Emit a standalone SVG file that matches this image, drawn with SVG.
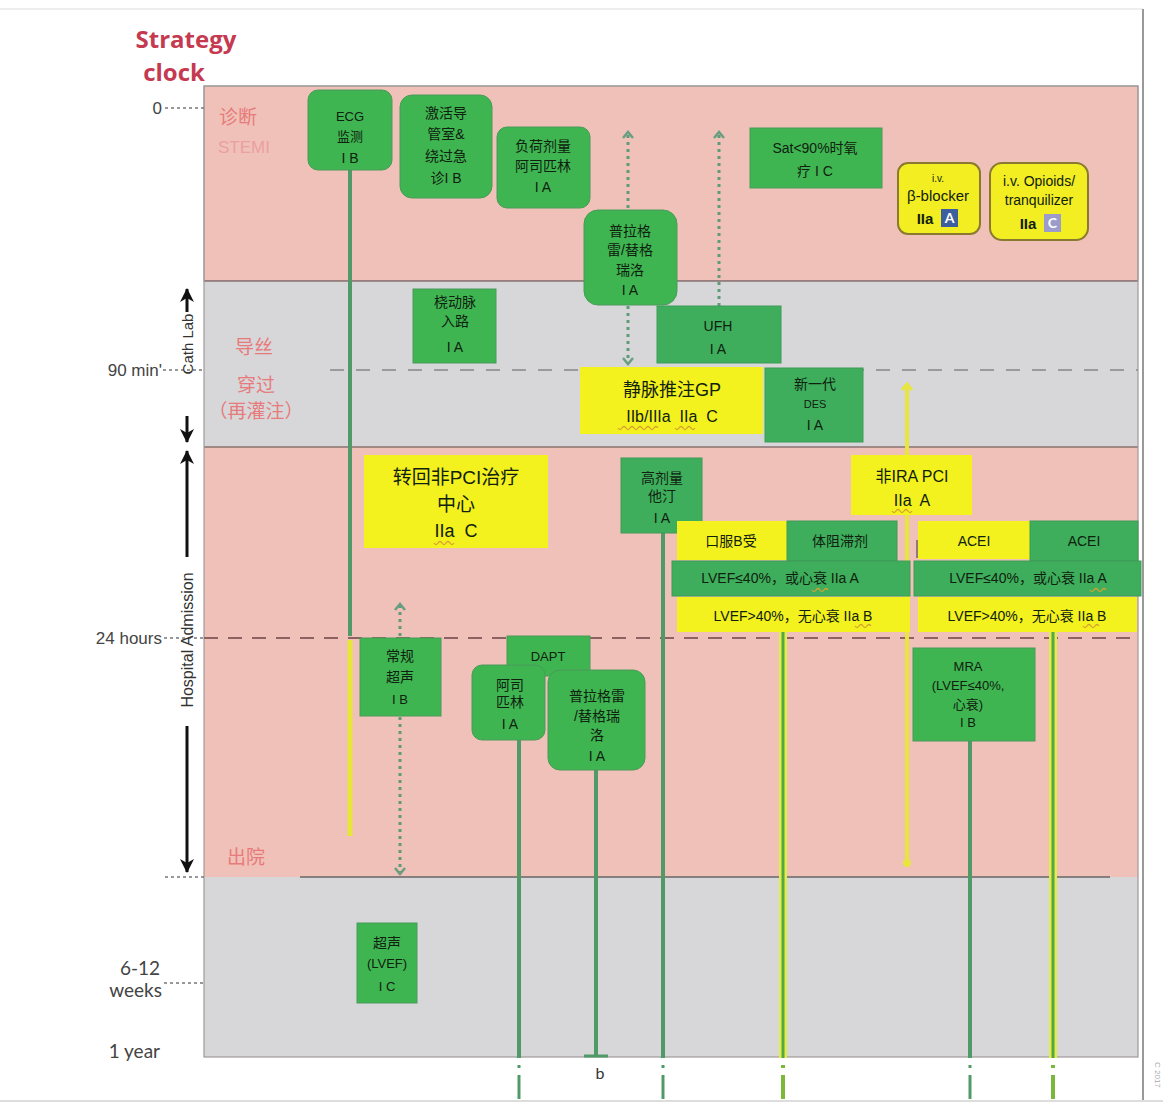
<svg xmlns="http://www.w3.org/2000/svg" width="1163" height="1106" viewBox="0 0 1163 1106">
<defs>
<style>
.t{font-family:"Liberation Sans","Noto Sans CJK SC",sans-serif;fill:#10210f;text-anchor:middle}
.s13{font-size:13px}.s14{font-size:14px}.s16{font-size:16px}.s18{font-size:18px}
.g{fill:#3fb552;stroke:#4a9a5a;stroke-width:1}
.gd{fill:#3eae5c;stroke:#3f9a58;stroke-width:1}
.y{fill:#f3f21e;stroke:none}
.yb{fill:#f2ee22;stroke:#8a7a30;stroke-width:2}
.ax{font-family:"Liberation Sans","Noto Sans CJK SC",sans-serif;fill:#444;font-size:17px;text-anchor:end}
.gs{font-family:Lato,"Liberation Sans",sans-serif;fill:#444;font-size:19px;text-anchor:end}
.pk{font-family:"Noto Sans CJK SC","Liberation Sans",sans-serif;fill:#e77b7b;font-size:19px;text-anchor:middle}
.gl{stroke:#4f9a66;stroke-width:4;fill:none}
.dot{stroke:#5f9b78;stroke-width:3;stroke-dasharray:3 4;fill:none}
.wv{stroke:#d8a030;stroke-width:1.3;fill:none}
</style>
<marker id="chev" viewBox="0 0 12 12" refX="9" refY="6" markerWidth="12" markerHeight="12" markerUnits="userSpaceOnUse" orient="auto">
<path d="M3,1 L9,6 L3,11" fill="none" stroke="#6a9e80" stroke-width="2.5"/>
</marker>
<marker id="ar" viewBox="0 0 14 14" refX="13" refY="7" markerWidth="14" markerHeight="14" markerUnits="userSpaceOnUse" orient="auto">
<path d="M0,0 L14,7 L0,14 L4,7 Z" fill="#111"/>
</marker>
<marker id="yar" viewBox="0 0 12 12" refX="9" refY="6" markerWidth="12" markerHeight="12" markerUnits="userSpaceOnUse" orient="auto">
<path d="M3,1 L9,6 L3,11" fill="none" stroke="#e8e540" stroke-width="3"/>
</marker>
</defs>
<rect width="1163" height="1106" fill="#fff"/>
<!-- frame -->
<line x1="0" y1="9" x2="1143" y2="9" stroke="#ddd" stroke-width="1"/>
<line x1="1143" y1="9" x2="1143" y2="1100" stroke="#999" stroke-width="2"/>
<line x1="0" y1="1101" x2="1163" y2="1101" stroke="#ddd" stroke-width="2"/>
<text x="1155" y="1062" transform="rotate(90 1155 1062)" font-family="Liberation Sans,sans-serif" font-size="8" fill="#aaa">C 2017</text>

<!-- bands -->
<g id="bands">
<rect x="204" y="86" width="934" height="195" fill="#f0c1b8" stroke="#999" stroke-width="1"/>
<rect x="204" y="281" width="934" height="166" fill="#d7d7da"/>
<rect x="204" y="447" width="934" height="430" fill="#f0c1b8"/>
<rect x="204" y="877" width="934" height="180" fill="#d7d7da"/>
<line x1="204" y1="281" x2="1138" y2="281" stroke="#8a7070" stroke-width="1.5"/>
<line x1="204" y1="447" x2="1138" y2="447" stroke="#8a7070" stroke-width="1.5"/>
<line x1="300" y1="877" x2="1110" y2="877" stroke="#666" stroke-width="1.5"/>
<rect x="204" y="86" width="934" height="971" fill="none" stroke="#a09a9a" stroke-width="1.2"/>
<line x1="330" y1="370" x2="1138" y2="370" stroke="#9a9a9a" stroke-width="2" stroke-dasharray="14 12"/>
<line x1="204" y1="638" x2="1138" y2="638" stroke="#8c6262" stroke-width="1.8" stroke-dasharray="14 10"/>
</g>

<!-- axis -->
<g id="axis">
<text x="186" y="48" font-family="Open Sans,Lato,sans-serif" font-weight="bold" font-size="24" fill="#c53a50" text-anchor="middle">Strategy</text>
<text x="174" y="81" font-family="Open Sans,Lato,sans-serif" font-weight="bold" font-size="24" fill="#c53a50" text-anchor="middle">clock</text>
<text class="ax" x="162" y="114">0</text>
<line x1="165" y1="108" x2="204" y2="108" stroke="#777" stroke-width="1.3" stroke-dasharray="3 3"/>
<text class="ax" x="162" y="376">90 min'</text>
<line x1="163" y1="370" x2="204" y2="370" stroke="#777" stroke-width="1.3" stroke-dasharray="3 3"/>
<text class="ax" x="162" y="644">24 hours</text>
<line x1="164" y1="638" x2="204" y2="638" stroke="#777" stroke-width="1.3" stroke-dasharray="3 3"/>
<text class="gs" x="160" y="975">6-12</text>
<text class="gs" x="162" y="997">weeks</text>
<line x1="164" y1="983" x2="204" y2="983" stroke="#777" stroke-width="1.3" stroke-dasharray="3 3"/>
<text class="gs" x="160" y="1058">1 year</text>
<line x1="165" y1="877" x2="204" y2="877" stroke="#777" stroke-width="1.3" stroke-dasharray="3 3"/>
<text x="193" y="344" transform="rotate(-90 193 344)" font-family="Liberation Sans,sans-serif" font-size="15" fill="#333" text-anchor="middle">Cath Lab</text>
<line x1="187" y1="312" x2="187" y2="289" stroke="#111" stroke-width="3" marker-end="url(#ar)"/>
<line x1="187" y1="416" x2="187" y2="442" stroke="#111" stroke-width="3" marker-end="url(#ar)"/>
<text x="193" y="640" transform="rotate(-90 193 640)" font-family="Liberation Sans,sans-serif" font-size="16" fill="#333" text-anchor="middle">Hospital Admission</text>
<line x1="187" y1="557" x2="187" y2="451" stroke="#111" stroke-width="3" marker-end="url(#ar)"/>
<line x1="187" y1="726" x2="187" y2="872" stroke="#111" stroke-width="3" marker-end="url(#ar)"/>
<text class="pk" x="238" y="124">诊断</text>
<text x="244" y="153" font-family="Liberation Sans,sans-serif" font-size="17" fill="#eaa0a0" text-anchor="middle">STEMI</text>
<text class="pk" x="254" y="354" font-size="17">导丝</text>
<text class="pk" x="256" y="392" font-size="17">穿过</text>
<text class="pk" x="256" y="418" font-size="17">（再灌注）</text>
<text class="pk" x="246" y="864">出院</text>
</g>

<!-- connectors -->
<g id="connectors">
<line x1="350" y1="170" x2="350" y2="636" class="gl"/>
<line x1="350" y1="640" x2="350" y2="836" stroke="#e8e53a" stroke-width="5"/>
<line x1="628" y1="208" x2="628" y2="132" class="dot" marker-end="url(#chev)"/>
<line x1="628" y1="306" x2="628" y2="364" class="dot" marker-end="url(#chev)"/>
<line x1="719" y1="306" x2="719" y2="132" class="dot" marker-end="url(#chev)"/>
<line x1="400" y1="636" x2="400" y2="604" class="dot" marker-end="url(#chev)"/>
<line x1="400" y1="717" x2="400" y2="874" class="dot" marker-end="url(#chev)"/>
<line x1="907" y1="862" x2="907" y2="384" stroke="#e8e540" stroke-width="4" marker-end="url(#yar)"/>
<circle cx="907" cy="863" r="4" fill="#e8e540"/>
<line x1="663" y1="533" x2="663" y2="1058" class="gl"/>
<line x1="519" y1="740" x2="519" y2="1058" class="gl"/>
<line x1="596" y1="770" x2="596" y2="1056" class="gl"/>
<line x1="584" y1="1056" x2="608" y2="1056" stroke="#4f9a66" stroke-width="3"/>
<line x1="970" y1="741" x2="970" y2="1058" class="gl"/>
<line x1="783" y1="632" x2="783" y2="1058" stroke="#e2ec4a" stroke-width="8"/>
<line x1="783" y1="632" x2="783" y2="1058" stroke="#55a845" stroke-width="3"/>
<line x1="1053" y1="632" x2="1053" y2="1058" stroke="#e2ec4a" stroke-width="8"/>
<line x1="1053" y1="632" x2="1053" y2="1058" stroke="#55a845" stroke-width="3"/>
<g stroke="#4f9a66" stroke-width="3">
<line x1="519" y1="1065" x2="519" y2="1068"/><line x1="519" y1="1075" x2="519" y2="1099"/>
<line x1="663" y1="1065" x2="663" y2="1068"/><line x1="663" y1="1075" x2="663" y2="1099"/>
<line x1="970" y1="1065" x2="970" y2="1068"/><line x1="970" y1="1075" x2="970" y2="1099"/>
</g>
<g stroke="#7bb83a" stroke-width="4">
<line x1="783" y1="1065" x2="783" y2="1068"/><line x1="783" y1="1075" x2="783" y2="1099"/>
<line x1="1053" y1="1065" x2="1053" y2="1068"/><line x1="1053" y1="1075" x2="1053" y2="1099"/>
</g>
<text x="600" y="1079" font-family="Lato,Liberation Sans,sans-serif" font-size="16" fill="#333" text-anchor="middle">b</text>
</g>

<!-- nodes -->
<g id="n-ecg"><rect class="g" x="308" y="90" width="84" height="80" rx="10"/>
<text class="t s13" x="350" y="121">ECG</text><text class="t s13" x="350" y="141">监测</text><text class="t s14" x="350" y="163">I B</text></g>

<g id="n-cathlab"><rect class="g" x="400" y="95" width="92" height="103" rx="12"/>
<text class="t s14" x="446" y="118">激活导</text><text class="t s14" x="446" y="139">管室&amp;</text><text class="t s14" x="446" y="161">绕过急</text><text class="t s14" x="446" y="183">诊I B</text></g>

<g id="n-aspirin-load"><rect class="g" x="497" y="127" width="93" height="81" rx="10"/>
<text class="t s14" x="543" y="151">负荷剂量</text><text class="t s14" x="543" y="171">阿司匹林</text><text class="t s14" x="543" y="192">I A</text></g>

<g id="n-p2y12"><rect class="g" x="584" y="210" width="93" height="95" rx="14"/>
<text class="t s14" x="630" y="236">普拉格</text><text class="t s14" x="630" y="255">雷/替格</text><text class="t s14" x="630" y="275">瑞洛</text><text class="t s14" x="630" y="295">I A</text></g>

<g id="n-oxygen"><rect class="g" x="750" y="128" width="132" height="60"/>
<text class="t s14" x="815" y="153">Sat&lt;90%时氧</text><text class="t s14" x="815" y="176">疗 I C</text></g>

<g id="n-bblocker"><rect class="yb" x="898" y="163" width="82" height="71" rx="10"/>
<text class="t" x="938" y="182" font-size="10" font-family="Lato,Liberation Sans,sans-serif">i.v.</text>
<text class="t" x="938" y="201" font-size="15" font-family="Lato,Liberation Sans,sans-serif">β-blocker</text>
<text class="t" x="925" y="224" font-size="15" font-weight="bold" font-family="Lato,Liberation Sans,sans-serif">IIa</text>
<rect x="941" y="209" width="17" height="18" fill="#3d5f9e"/>
<text x="949.5" y="223" font-family="Lato,Liberation Sans,sans-serif" font-size="14" font-weight="bold" fill="#fff" text-anchor="middle">A</text></g>

<g id="n-opioids"><rect class="yb" x="990" y="163" width="98" height="77" rx="12"/>
<text class="t" x="1039" y="186" font-size="14" font-family="Lato,Liberation Sans,sans-serif">i.v. Opioids/</text>
<text class="t" x="1039" y="205" font-size="14" font-family="Lato,Liberation Sans,sans-serif">tranquilizer</text>
<text class="t" x="1028" y="229" font-size="15" font-weight="bold" font-family="Lato,Liberation Sans,sans-serif">IIa</text>
<rect x="1044" y="214" width="17" height="18" fill="#9c9ccc"/>
<text x="1052.5" y="228" font-family="Lato,Liberation Sans,sans-serif" font-size="14" font-weight="bold" fill="#fff" text-anchor="middle">C</text></g>

<g id="n-radial"><rect class="g" x="413" y="289" width="83" height="74"/>
<text class="t s14" x="455" y="307">桡动脉</text><text class="t s14" x="455" y="326">入路</text><text class="t s14" x="455" y="352">I A</text></g>

<g id="n-ufh"><rect class="gd" x="657" y="306" width="124" height="57"/>
<text class="t s14" x="718" y="331">UFH</text><text class="t s14" x="718" y="354">I A</text></g>

<g id="n-gp"><rect class="y" x="580" y="367" width="183" height="67"/>
<text class="t s18" x="672" y="396">静脉推注GP</text>
<text class="t s16" x="672" y="422" xml:space="preserve">IIb/IIIa  IIa  C</text>
<path class="wv" d="M618,428 q2,3 4,0 t4,0 t4,0 t4,0 t4,0 t4,0 t4,0 t4,0 t4,0 t4,0 M675,428 q2,3 4,0 t4,0 t4,0 t4,0 t4,0"/></g>

<g id="n-des"><rect class="gd" x="765" y="368" width="98" height="74"/>
<text class="t s14" x="815" y="389">新一代</text><text class="t" x="815" y="408" font-size="11">DES</text><text class="t s14" x="815" y="430">I A</text></g>

<g id="n-transfer"><rect class="y" x="364" y="455" width="184" height="93"/>
<text class="t" x="456" y="484" font-size="19">转回非PCI治疗</text>
<text class="t" x="456" y="511" font-size="19">中心</text>
<text class="t s18" x="456" y="537" xml:space="preserve">IIa  C</text>
<path class="wv" d="M434,543 q2,3 4,0 t4,0 t4,0 t4,0 t4,0"/></g>

<g id="n-statin"><rect class="gd" x="621" y="458" width="81" height="75"/>
<text class="t s14" x="662" y="483">高剂量</text><text class="t s14" x="662" y="501">他汀</text><text class="t s14" x="662" y="523">I A</text></g>

<g id="n-nonira"><rect class="y" x="851" y="455" width="121" height="60"/>
<text class="t s16" x="912" y="482">非IRA PCI</text>
<text class="t s16" x="912" y="506" xml:space="preserve">IIa  A</text>
<path class="wv" d="M892,511 q2,3 4,0 t4,0 t4,0 t4,0 t4,0"/></g>

<g id="n-bblocker-oral">
<rect class="y" x="677" y="521" width="110" height="39"/>
<rect class="gd" x="787" y="521" width="110" height="40"/>
<rect class="gd" x="672" y="561" width="238" height="35"/>
<rect class="y" x="677" y="597" width="233" height="35"/>
<text class="t s14" x="731" y="546">口服B受</text>
<text class="t s14" x="840" y="546">体阻滞剂</text>
<text class="t s14" x="780" y="583">LVEF≤40%，或心衰 IIa  A</text>
<text class="t s14" x="793" y="621">LVEF&gt;40%，无心衰 IIa  B</text>
<path class="wv" d="M812,590 q2,3 4,0 t4,0 t4,0 t4,0 M855,626 q2,3 4,0 t4,0 t4,0 t4,0"/></g>

<g id="n-acei">
<rect class="y" x="918" y="521" width="112" height="38"/>
<rect class="gd" x="1030" y="521" width="108" height="40"/>
<rect class="gd" x="914" y="561" width="227" height="35"/>
<rect class="y" x="918" y="597" width="219" height="35"/>
<line x1="917" y1="540" x2="917" y2="558" stroke="#333" stroke-width="1"/>
<text class="t s14" x="974" y="546">ACEI</text>
<text class="t s14" x="1084" y="546">ACEI</text>
<text class="t s14" x="1028" y="583">LVEF≤40%，或心衰 IIa  A</text>
<text class="t s14" x="1027" y="621">LVEF&gt;40%，无心衰 IIa  B</text>
<path class="wv" d="M1090,590 q2,3 4,0 t4,0 t4,0 t4,0 M1083,626 q2,3 4,0 t4,0 t4,0 t4,0"/></g>

<g id="n-echo"><rect class="g" x="360" y="638" width="81" height="78"/>
<text class="t s14" x="400" y="661">常规</text><text class="t s14" x="400" y="682">超声</text><text class="t s13" x="400" y="704">I B</text></g>

<g id="n-dapt"><rect class="g" x="507" y="636" width="83" height="40"/>
<text class="t s13" x="548" y="661">DAPT</text></g>

<g id="n-aspirin"><rect class="g" x="472" y="665" width="73" height="75" rx="10"/>
<text class="t s14" x="510" y="690">阿司</text><text class="t s14" x="510" y="707">匹林</text><text class="t s14" x="510" y="729">I A</text></g>

<g id="n-p2y12b"><rect class="g" x="548" y="670" width="97" height="100" rx="12"/>
<text class="t s14" x="597" y="701">普拉格雷</text><text class="t s14" x="597" y="721">/替格瑞</text><text class="t s14" x="597" y="740">洛</text><text class="t s14" x="597" y="761">I A</text></g>

<g id="n-mra"><rect class="g" x="913" y="648" width="122" height="93"/>
<text class="t s13" x="968" y="671">MRA</text><text class="t s13" x="968" y="690">(LVEF≤40%,</text><text class="t s13" x="968" y="709">心衰)</text><text class="t s13" x="968" y="727">I B</text></g>

<g id="n-echo2"><rect class="g" x="357" y="923" width="60" height="80"/>
<text class="t s14" x="387" y="948">超声</text><text class="t s13" x="387" y="968">(LVEF)</text><text class="t s13" x="387" y="991">I C</text></g>
</svg>
